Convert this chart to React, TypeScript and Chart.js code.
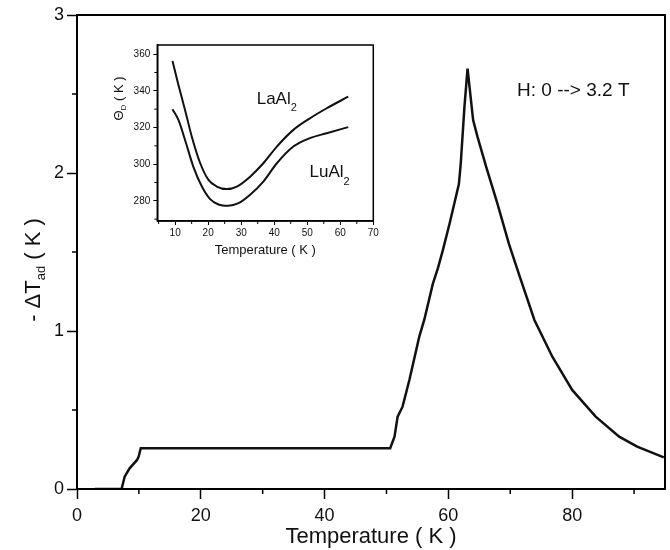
import React, { useEffect, useRef } from 'react';
import { Chart, registerables } from 'chart.js';

Chart.register(...registerables);
Chart.defaults.font.family = "'Liberation Sans', Arial, Helvetica, sans-serif";

// ---------- main chart data ----------
const mainTemps = [2.9, 7.2, 7.7, 8.5, 9.7, 9.95, 10.3, 50.6, 51.3, 51.8, 52.6, 53.7, 55.3, 56.1, 57.5, 58.3, 59.1, 60.2, 61.7, 62.0, 62.6, 63.1, 64.0, 64.7, 66.1, 67.9, 69.8, 71.4, 73.9, 76.8, 80.0, 83.8, 87.6, 90.5, 94.8];
const mainDeltaT = [0, 0, 0.078, 0.131, 0.184, 0.204, 0.258, 0.258, 0.331, 0.458, 0.521, 0.69, 0.964, 1.07, 1.3, 1.397, 1.51, 1.68, 1.93, 2.06, 2.42, 2.66, 2.335, 2.23, 2.04, 1.81, 1.55, 1.36, 1.07, 0.837, 0.627, 0.458, 0.331, 0.268, 0.2];
const mainXTicks = [0, 20, 40, 60, 80];
const mainXMinor = [10, 30, 50, 70, 90];
const mainYTicks = [0, 1, 2, 3];
const mainYMinor = [0.5, 1.5, 2.5];

// ---------- inset data ----------
const laAl2Temps = [9.2, 11.0, 13.0, 15.05, 17.6, 20.1, 22.6, 25.6, 28.7, 32.7, 36.7, 40.8, 45.8, 50.8, 55.9, 62.4];
const laAl2Theta = [356.3, 343.2, 329.6, 315, 300.5, 291.4, 287.8, 286.4, 287.8, 293.2, 300.5, 309.6, 318.7, 325, 330.5, 336.8];
const luAl2Temps = [9.2, 11.0, 13.0, 15.5, 18.1, 20.6, 23.1, 26.1, 29.2, 32.7, 36.7, 40.8, 45.8, 50.8, 55.9, 62.4];
const luAl2Theta = [330, 324.1, 313.2, 298.7, 287.8, 280.9, 278, 277.3, 278.7, 283.3, 290.5, 300.5, 309.6, 314.2, 316.9, 320.2];
const insetXTicks = [10, 20, 30, 40, 50, 60, 70];
const insetXMinor = [5, 15, 25, 35, 45, 55, 65];
const insetYTicks = [280, 300, 320, 340, 360];
const insetYMinor = [270, 290, 310, 330, 350];

const INK = '#111';

type Part = { text: string; size: number; dy: number };

function drawParts(ctx: CanvasRenderingContext2D, parts: Part[], startX: number, baseY: number) {
  let x = startX;
  for (const p of parts) {
    ctx.font = `${p.size}px 'Liberation Sans', Arial, sans-serif`;
    ctx.fillText(p.text, x, baseY + p.dy);
    x += ctx.measureText(p.text).width;
  }
}

function partsWidth(ctx: CanvasRenderingContext2D, parts: Part[]) {
  let w = 0;
  for (const p of parts) {
    ctx.font = `${p.size}px 'Liberation Sans', Arial, sans-serif`;
    w += ctx.measureText(p.text).width;
  }
  return w;
}

function drawVertical(ctx: CanvasRenderingContext2D, parts: Part[], cx: number, cy: number, capSize: number) {
  ctx.save();
  ctx.translate(cx, cy);
  ctx.rotate(-Math.PI / 2);
  ctx.textBaseline = 'alphabetic';
  ctx.textAlign = 'left';
  const w = partsWidth(ctx, parts);
  drawParts(ctx, parts, -w / 2, capSize * 0.358);
  ctx.restore();
}

function minorTicks(ctx: CanvasRenderingContext2D, chart: any, xMinor: number[], yMinor: number[], len: number) {
  const a = chart.chartArea;
  const { x, y } = chart.scales;
  ctx.beginPath();
  xMinor.forEach((v) => {
    const px = x.getPixelForValue(v);
    ctx.moveTo(px, a.bottom);
    ctx.lineTo(px, a.bottom + len);
  });
  yMinor.forEach((v) => {
    const py = y.getPixelForValue(v);
    ctx.moveTo(a.left, py);
    ctx.lineTo(a.left - len, py);
  });
  ctx.stroke();
}

const mainDecor = {
  id: 'mainDecor',
  afterDraw(chart: any) {
    const ctx: CanvasRenderingContext2D = chart.ctx;
    const a = chart.chartArea;
    const { x, y } = chart.scales;
    ctx.save();
    ctx.strokeStyle = '#000';
    ctx.lineWidth = 2;
    ctx.strokeRect(a.left, a.top, a.right - a.left, a.bottom - a.top);
    ctx.lineWidth = 1.5;
    minorTicks(ctx, chart, mainXMinor, mainYMinor, 5);
    ctx.fillStyle = INK;
    ctx.textBaseline = 'alphabetic';
    ctx.textAlign = 'left';
    drawParts(ctx, [{ text: 'H: 0 --> 3.2 T', size: 19, dy: 0 }], x.getPixelForValue(71.1), y.getPixelForValue(2.49));
    drawVertical(
      ctx,
      [
        { text: '- \u0394T', size: 22, dy: 0 },
        { text: 'ad', size: 13, dy: 5 },
        { text: ' ( K )', size: 22, dy: 0 },
      ],
      32,
      270,
      22
    );
    ctx.restore();
  },
};

const insetDecor = {
  id: 'insetDecor',
  afterDraw(chart: any) {
    const ctx: CanvasRenderingContext2D = chart.ctx;
    const a = chart.chartArea;
    const { x, y } = chart.scales;
    ctx.save();
    ctx.strokeStyle = '#000';
    ctx.lineWidth = 1.5;
    ctx.strokeRect(a.left, a.top, a.right - a.left, a.bottom - a.top);
    ctx.lineWidth = 1;
    minorTicks(ctx, chart, insetXMinor, insetYMinor, 3);
    ctx.fillStyle = INK;
    drawParts(
      ctx,
      [
        { text: 'LaAl', size: 17, dy: 0 },
        { text: '2', size: 11, dy: 7 },
      ],
      x.getPixelForValue(34.7),
      y.getPixelForValue(332.6)
    );
    drawParts(
      ctx,
      [
        { text: 'LuAl', size: 17, dy: 0 },
        { text: '2', size: 11, dy: 8 },
      ],
      x.getPixelForValue(50.7),
      y.getPixelForValue(293.2)
    );
    drawVertical(
      ctx,
      [
        { text: '\u0398', size: 13, dy: 0 },
        { text: 'D', size: 8, dy: 3 },
        { text: ' ( K )', size: 13, dy: 0 },
      ],
      18,
      68.5,
      13
    );
    ctx.restore();
  },
};

function toPoints(xs: number[], ys: number[]) {
  return xs.map((t, i) => ({ x: t, y: ys[i] }));
}

export default function App() {
  const mainRef = useRef<HTMLCanvasElement>(null);
  const insetRef = useRef<HTMLCanvasElement>(null);

  useEffect(() => {
    const main = new Chart(mainRef.current as HTMLCanvasElement, {
      type: 'line',
      data: {
        datasets: [
          {
            data: toPoints(mainTemps, mainDeltaT),
            borderColor: INK,
            borderWidth: 2.5,
            pointRadius: 0,
            tension: 0,
            fill: false,
          },
        ],
      },
      options: {
        responsive: false,
        animation: false,
        layout: { padding: { top: 15, right: 5, left: 0, bottom: 0 } },
        plugins: { legend: { display: false }, tooltip: { enabled: false } },
        scales: {
          x: {
            type: 'linear',
            min: 0,
            max: 95,
            afterBuildTicks: (s: any) => {
              s.ticks = mainXTicks.map((v) => ({ value: v }));
            },
            afterFit: (s: any) => {
              s.height = 61;
            },
            grid: { display: true, drawOnChartArea: false, drawTicks: true, tickLength: 10, tickWidth: 1.5, tickColor: '#000' },
            border: { display: true, color: '#000', width: 2 },
            ticks: { font: { size: 18 }, color: INK, padding: 6, maxRotation: 0, autoSkip: false },
            title: { display: true, text: 'Temperature ( K )', font: { size: 22 }, color: INK, padding: { top: 0, bottom: 0 } },
          },
          y: {
            type: 'linear',
            min: 0,
            max: 3,
            afterBuildTicks: (s: any) => {
              s.ticks = mainYTicks.map((v) => ({ value: v }));
            },
            afterFit: (s: any) => {
              s.width = 77;
            },
            grid: { display: true, drawOnChartArea: false, drawTicks: true, tickLength: 10, tickWidth: 1.5, tickColor: '#000' },
            border: { display: true, color: '#000', width: 2 },
            ticks: { font: { size: 18 }, color: INK, padding: 3 },
            title: { display: false },
          },
        },
      },
      plugins: [mainDecor],
    } as any);

    const inset = new Chart(insetRef.current as HTMLCanvasElement, {
      type: 'line',
      data: {
        datasets: [
          {
            data: toPoints(laAl2Temps, laAl2Theta),
            borderColor: INK,
            borderWidth: 2,
            pointRadius: 0,
            cubicInterpolationMode: 'monotone',
            fill: false,
          },
          {
            data: toPoints(luAl2Temps, luAl2Theta),
            borderColor: INK,
            borderWidth: 2,
            pointRadius: 0,
            cubicInterpolationMode: 'monotone',
            fill: false,
          },
        ],
      },
      options: {
        responsive: false,
        animation: false,
        layout: { padding: { top: 15, right: 16.7, left: 0, bottom: 0 } },
        plugins: { legend: { display: false }, tooltip: { enabled: false } },
        scales: {
          x: {
            type: 'linear',
            min: 4.6,
            max: 70,
            afterBuildTicks: (s: any) => {
              s.ticks = insetXTicks.map((v) => ({ value: v }));
            },
            afterFit: (s: any) => {
              s.height = 41;
            },
            grid: { display: true, drawOnChartArea: false, drawTicks: true, tickLength: 4, tickWidth: 1, tickColor: '#000' },
            border: { display: true, color: '#000', width: 1.5 },
            ticks: { font: { size: 10 }, color: INK, padding: 2, maxRotation: 0, autoSkip: false },
            title: { display: true, text: 'Temperature ( K )', font: { size: 13 }, color: INK, padding: { top: 0, bottom: 4 } },
          },
          y: {
            type: 'linear',
            min: 269,
            max: 365,
            afterBuildTicks: (s: any) => {
              s.ticks = insetYTicks.map((v) => ({ value: v }));
            },
            afterFit: (s: any) => {
              s.width = 57.3;
            },
            grid: { display: true, drawOnChartArea: false, drawTicks: true, tickLength: 4, tickWidth: 1, tickColor: '#000' },
            border: { display: true, color: '#000', width: 1.5 },
            ticks: { font: { size: 10 }, color: INK, padding: 3 },
            title: { display: false },
          },
        },
      },
      plugins: [insetDecor],
    } as any);

    return () => {
      main.destroy();
      inset.destroy();
    };
  }, []);

  return (
    <div style={{ position: 'absolute', left: 0, top: 0, width: 670, height: 550, background: '#fff' }}>
      <canvas ref={mainRef} width={670} height={550} style={{ position: 'absolute', left: 0, top: 0 }} />
      <canvas ref={insetRef} width={290} height={232} style={{ position: 'absolute', left: 100, top: 30 }} />
    </div>
  );
}
